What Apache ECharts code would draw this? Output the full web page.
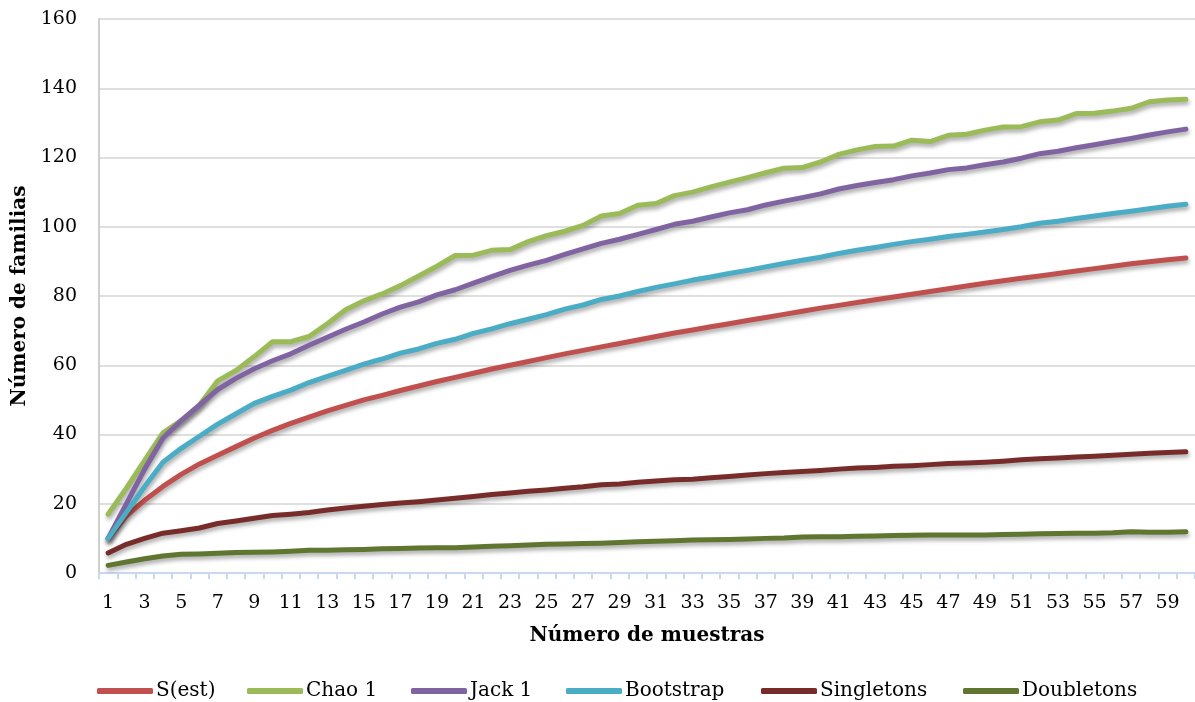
<!DOCTYPE html>
<html>
<head>
<meta charset="utf-8">
<title>Número de familias</title>
<script src="https://cdn.jsdelivr.net/npm/echarts@6/dist/echarts.min.js"></script>
<style>
  html, body { margin: 0; padding: 0; background: #fff; }
  #chart { width: 1195px; height: 702px; }
</style>
</head>
<body>
<div id="chart"></div>
<script>
// categorias: numero de muestras 1..60
var muestras = ['1','2','3','4','5','6','7','8','9','10','11','12','13','14','15','16','17','18','19','20',
  '21','22','23','24','25','26','27','28','29','30','31','32','33','34','35','36','37','38','39','40',
  '41','42','43','44','45','46','47','48','49','50','51','52','53','54','55','56','57','58','59','60'];

var sEst = [10, 16.5, 21, 25, 28.5, 31.5, 34, 36.5, 39, 41.2, 43.2, 45, 46.8, 48.4, 50, 51.3, 52.7, 54, 55.3, 56.5,
  57.7, 58.9, 60, 61.1, 62.2, 63.3, 64.3, 65.3, 66.3, 67.3, 68.3, 69.3, 70.2, 71.1, 72, 72.9, 73.8, 74.7, 75.6, 76.5,
  77.3, 78.1, 78.9, 79.7, 80.5, 81.3, 82.1, 82.9, 83.7, 84.4, 85.1, 85.8, 86.5, 87.2, 87.9, 88.6, 89.3, 89.9, 90.5, 91];

var chao1 = [17, 24.5, 32.5, 40.5, 44, 48.5, 55.5, 58.5, 62.5, 66.8, 66.8, 68.3, 72, 76, 78.6, 80.6, 83, 85.8, 88.6, 91.7,
  91.8, 93.2, 93.4, 95.7, 97.4, 98.7, 100.4, 103.1, 103.8, 106.2, 106.7, 109, 110, 111.5, 112.9, 114.2, 115.6, 116.9, 117.1, 118.7,
  120.9, 122.2, 123.2, 123.3, 125, 124.6, 126.4, 126.7, 127.9, 128.8, 128.9, 130.3, 130.8, 132.7, 132.8, 133.4, 134.2, 136.1, 136.6, 136.8];

var jack1 = [10, 20, 30, 39, 44, 48.5, 53, 56.2, 59, 61.3, 63.3, 65.8, 68.1, 70.4, 72.5, 74.8, 76.8, 78.3, 80.3, 81.8,
  83.7, 85.6, 87.4, 88.9, 90.3, 92, 93.6, 95.2, 96.4, 97.8, 99.2, 100.7, 101.6, 102.8, 104, 104.9, 106.3, 107.4, 108.4, 109.5,
  110.9, 111.9, 112.8, 113.6, 114.7, 115.5, 116.5, 117, 117.9, 118.7, 119.8, 121.1, 121.8, 122.8, 123.7, 124.6, 125.5, 126.5, 127.4, 128.2];

var bootstrap = [10, 17.5, 25, 32, 36, 39.5, 43, 46, 49, 51, 52.8, 55, 56.8, 58.5, 60.3, 61.8, 63.5, 64.7, 66.3, 67.5,
  69.2, 70.5, 72, 73.3, 74.6, 76.2, 77.4, 79, 80, 81.3, 82.5, 83.5, 84.6, 85.5, 86.5, 87.4, 88.4, 89.4, 90.3, 91.2,
  92.3, 93.2, 94, 94.9, 95.7, 96.4, 97.2, 97.8, 98.5, 99.2, 100, 101, 101.6, 102.4, 103.1, 103.8, 104.5, 105.2, 105.9, 106.5];

var singletons = [5.8, 8.3, 10, 11.5, 12.2, 13, 14.3, 15, 15.8, 16.6, 17, 17.5, 18.2, 18.8, 19.3, 19.8, 20.2, 20.6, 21.1, 21.6,
  22.1, 22.7, 23.1, 23.6, 24, 24.5, 24.9, 25.5, 25.7, 26.2, 26.6, 26.9, 27.1, 27.5, 27.9, 28.3, 28.7, 29, 29.3, 29.6,
  30, 30.3, 30.5, 30.8, 31, 31.3, 31.6, 31.8, 32, 32.3, 32.7, 33, 33.2, 33.5, 33.7, 34, 34.3, 34.6, 34.8, 35];

var doubletons = [2.2, 3.2, 4.1, 4.9, 5.4, 5.5, 5.7, 5.9, 6, 6.1, 6.3, 6.6, 6.6, 6.7, 6.8, 7, 7.1, 7.2, 7.3, 7.3,
  7.5, 7.7, 7.9, 8.1, 8.3, 8.4, 8.5, 8.6, 8.8, 9, 9.2, 9.3, 9.5, 9.6, 9.7, 9.8, 10, 10.1, 10.4, 10.5,
  10.5, 10.6, 10.7, 10.8, 10.9, 11, 11, 11, 11, 11.1, 11.2, 11.3, 11.4, 11.5, 11.5, 11.6, 11.9, 11.8, 11.8, 11.9];

var nombres = ['S(est)', 'Chao 1', 'Jack 1', 'Bootstrap', 'Singletons', 'Doubletons'];
var colores = ['#c0504d', '#9bbb59', '#8064a2', '#4bacc6', '#772c2a', '#5f7530'];
var datos = [sEst, chao1, jack1, bootstrap, singletons, doubletons];

var fuente = '"DejaVu Serif", "Liberation Serif", serif';

var chart = echarts.init(document.getElementById('chart'));

var series = nombres.map(function (n, i) {
  return {
    name: n,
    type: 'line',
    data: datos[i],
    symbol: 'none', // sin marcadores
    smooth: false,
    animation: false,
    lineStyle: {
      color: colores[i],
      width: 5,
      cap: 'round',
      join: 'round',
      shadowColor: 'rgba(0,0,0,0.35)',
      shadowBlur: 4,
      shadowOffsetX: 1,
      shadowOffsetY: 3
    },
    itemStyle: { color: colores[i] }
  };
});

// una leyenda por serie para colocarlas como en la imagen
var leyendaX = [92, 242, 406, 561, 756, 958];
var leyendas = nombres.map(function (n, i) {
  return {
    left: leyendaX[i],
    top: 676,
    icon: 'roundRect',
    itemWidth: 56,
    itemHeight: 6,
    textStyle: { fontFamily: fuente, fontSize: 20, color: '#000', padding: [0, 0, 0, -2] },
    data: [n]
  };
});

var option = {
  backgroundColor: '#fff',
  animation: false,
  textStyle: { fontFamily: fuente, color: '#000' },
  grid: {
    left: 99,
    right: -2,
    top: 19,
    bottom: 129,
    containLabel: false
  },
  legend: leyendas,
  xAxis: {
    type: 'category',
    data: muestras,
    boundaryGap: true,
    name: 'Número de muestras',
    nameLocation: 'middle',
    nameGap: 53,
    nameTextStyle: { fontFamily: fuente, fontSize: 20, fontWeight: 'bold', color: '#000' },
    axisLine: { lineStyle: { color: '#c6d9f1', width: 2 } },
    axisTick: { show: true, interval: 0, length: 6, lineStyle: { color: '#c6d9f1', width: 2 } },
    axisLabel: { interval: 1, margin: 21, fontSize: 19, color: '#000', fontFamily: fuente },
    splitLine: { show: false }
  },
  yAxis: {
    type: 'value',
    min: 0,
    max: 160,
    interval: 20,
    name: 'Número de familias',
    nameLocation: 'middle',
    nameRotate: 90,
    nameGap: 67,
    nameTextStyle: { fontFamily: fuente, fontSize: 20, fontWeight: 'bold', color: '#000' },
    axisLine: { show: true, lineStyle: { color: '#bfbfbf', width: 1.5 } },
    axisTick: { show: false },
    axisLabel: { margin: 22, fontSize: 19, color: '#000', fontFamily: fuente },
    splitLine: { show: true, lineStyle: { color: '#d4d4d4', width: 1.5 } }
  },
  series: series
};

chart.setOption(option);
</script>
</body>
</html>
